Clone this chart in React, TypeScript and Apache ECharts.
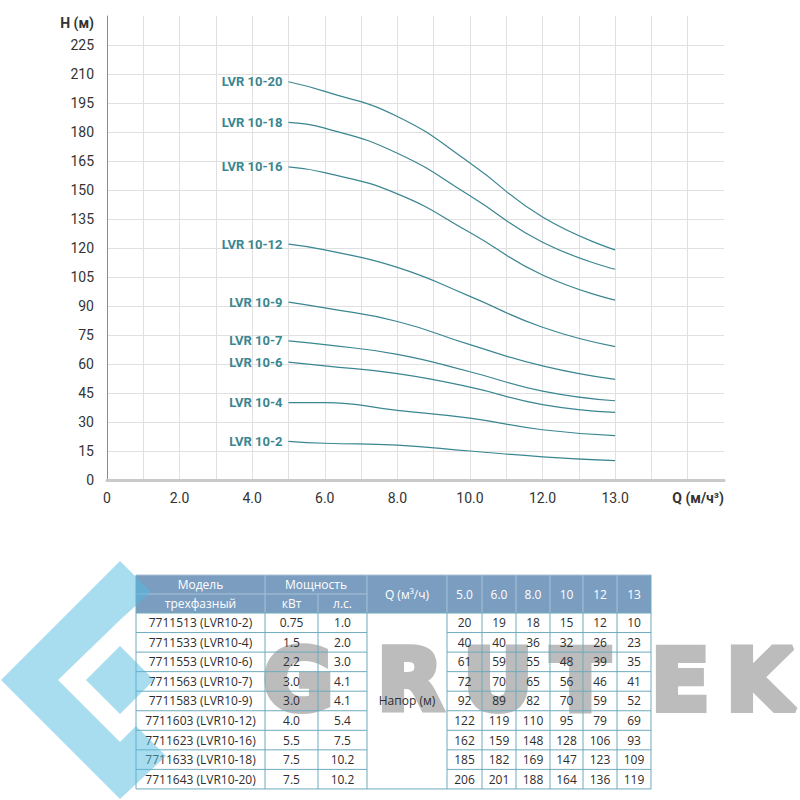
import React, { useEffect, useRef } from 'react';
import * as echarts from 'echarts';

// Flow points, m³/h
const flows = [5, 6, 8, 10, 12, 13];

const pumpNames = ['LVR 10-2', 'LVR 10-4', 'LVR 10-6', 'LVR 10-7', 'LVR 10-9', 'LVR 10-12', 'LVR 10-16', 'LVR 10-18', 'LVR 10-20'];
const articleCodes = ['7711513', '7711533', '7711553', '7711563', '7711583', '7711603', '7711623', '7711633', '7711643'];
const powerKw = ['0.75', '1.5', '2.2', '3.0', '3.0', '4.0', '5.5', '7.5', '7.5'];
const powerHp = ['1.0', '2.0', '3.0', '4.1', '4.1', '5.4', '7.5', '10.2', '10.2'];

// Head, m, at each flow point
const head10_2 = [20, 19, 18, 15, 12, 10];
const head10_4 = [40, 40, 36, 32, 26, 23];
const head10_6 = [61, 59, 55, 48, 39, 35];
const head10_7 = [72, 70, 65, 56, 46, 41];
const head10_9 = [92, 89, 82, 70, 59, 52];
const head10_12 = [122, 119, 110, 95, 79, 69];
const head10_16 = [162, 159, 148, 128, 106, 93];
const head10_18 = [185, 182, 169, 147, 123, 109];
const head10_20 = [206, 201, 188, 164, 136, 119];
const heads = [head10_2, head10_4, head10_6, head10_7, head10_9, head10_12, head10_16, head10_18, head10_20];

// Tick labels of the flow axis, one per grid step
const xTickLabels = ['0', '', '2.0', '', '4.0', '', '6.0', '', '8.0', '', '10.0', '', '12.0', '', '13.0', '', '', ''];

const watermarkLetters = ['G', 'R', 'U', 'T', 'E', 'K'];

const LINE_COLOR = '#3a8691';
const FONT = 'Roboto, "Noto Sans", sans-serif';
const TABLE_FONT = '"Open Sans", "Noto Sans", sans-serif';

// The flow axis is stretched past 12 m³/h: the step 12 → 13 takes two grid cells
const flowToAxis = (q: number) => (q <= 12 ? q : 12 + (q - 12) * 2);

const flowHeader = (q: number) => (q < 10 ? q.toFixed(1) : String(q));

function buildTable(): any[] {
  const els: any[] = [];
  const colX = [136, 265, 318, 367, 447, 482, 516, 550, 583, 617, 651];
  const top = 575;
  const headH = 19;
  const bodyTop = 613;
  const rowH = 19.55;
  const bodyBottom = bodyTop + rowH * pumpNames.length;
  const left = colX[0];
  const right = colX[colX.length - 1];
  const headFill = '#7b9dc0';
  const headLine = '#a9c2d8';
  const bodyLine = '#6eaabd';
  const textColor = '#2e2e2e';

  const line = (x1: number, y1: number, x2: number, y2: number, color: string) =>
    els.push({ type: 'line', silent: true, z: 10, shape: { x1, y1, x2, y2 }, style: { stroke: color, lineWidth: 1 } });
  const text = (t: string, x: number, y: number, color: string) =>
    els.push({
      type: 'text', silent: true, z: 12, x, y,
      style: { text: t, fill: color, font: `12px ${TABLE_FONT}`, align: 'center', verticalAlign: 'middle' },
    });

  // header background
  els.push({ type: 'rect', silent: true, z: 8, shape: { x: left, y: top, width: right - left, height: bodyTop - top }, style: { fill: headFill } });
  // body background
  els.push({ type: 'rect', silent: true, z: 8, shape: { x: left, y: bodyTop, width: right - left, height: bodyBottom - bodyTop }, style: { fill: '#ffffff' } });

  // header grid
  line(left, top, right, top, headLine);
  line(left, top + headH, colX[3], top + headH, headLine);
  for (let c = 1; c < colX.length - 1; c++) {
    if (c === 2) line(colX[c], top + headH, colX[c], bodyTop, headLine);
    else line(colX[c], top, colX[c], bodyTop, headLine);
  }

  // header texts
  const r1 = top + headH / 2;
  const r2 = top + headH + headH / 2;
  const mid = (a: number, b: number) => (a + b) / 2;
  text('Модель', mid(colX[0], colX[1]), r1, '#ffffff');
  text('трехфазный', mid(colX[0], colX[1]), r2, '#ffffff');
  text('Мощность', mid(colX[1], colX[3]), r1, '#ffffff');
  text('кВт', mid(colX[1], colX[2]), r2, '#ffffff');
  text('л.с.', mid(colX[2], colX[3]), r2, '#ffffff');
  text('Q (м³/ч)', mid(colX[3], colX[4]), mid(top, bodyTop), '#ffffff');
  flows.forEach((q, j) => text(flowHeader(q), mid(colX[4 + j], colX[5 + j]), mid(top, bodyTop), '#ffffff'));

  // body grid
  for (let r = 0; r <= pumpNames.length; r++) {
    const y = bodyTop + r * rowH;
    if (r === 0 || r === pumpNames.length) {
      line(left, y, right, y, bodyLine);
    } else {
      line(left, y, colX[3], y, bodyLine);
      line(colX[4], y, right, y, bodyLine);
    }
  }
  colX.forEach((x) => line(x, bodyTop, x, bodyBottom, bodyLine));
  line(left, top, left, bodyTop, bodyLine);
  line(right, top, right, bodyTop, bodyLine);

  // body texts
  pumpNames.forEach((name, i) => {
    const y = bodyTop + i * rowH + rowH / 2;
    text(`${articleCodes[i]} (${name.replace(' ', '')})`, mid(colX[0], colX[1]), y, textColor);
    text(powerKw[i], mid(colX[1], colX[2]), y, textColor);
    text(powerHp[i], mid(colX[2], colX[3]), y, textColor);
    heads[i].forEach((h, j) => text(String(h), mid(colX[4 + j], colX[5 + j]), y, textColor));
  });
  text('Напор (м)', mid(colX[3], colX[4]), mid(bodyTop, bodyBottom), textColor);
  return els;
}

function buildWatermark(): any[] {
  const els: any[] = [];
  const blue = 'rgba(82, 185, 224, 0.5)';
  // brand mark: a diamond-shaped "G"
  els.push({
    type: 'polygon', silent: true, z: 20,
    shape: { points: [[1, 680], [120, 561], [151, 592], [121, 619], [58, 680], [120, 742], [136, 726], [166, 756], [120, 799]] },
    style: { fill: blue },
  });
  els.push({
    type: 'polygon', silent: true, z: 20,
    shape: { points: [[86, 680], [120, 646], [154, 680], [120, 714]] },
    style: { fill: blue },
  });
  // lettering sits under the table's lines and figures
  const letterX = [263, 377, 463, 551, 651, 726];
  watermarkLetters.forEach((ch, i) =>
    els.push({
      type: 'text', silent: true, z: 9, x: letterX[i], y: 680,
      style: {
        text: ch, fill: '#bcbcbc', stroke: '#bcbcbc', lineWidth: 6, lineJoin: 'miter',
        font: `bold 86px "DejaVu Sans", sans-serif`, align: 'left', verticalAlign: 'middle',
      },
    })
  );
  return els;
}

export default function App() {
  const ref = useRef<HTMLDivElement>(null);

  useEffect(() => {
    const chart = echarts.init(ref.current!, undefined, { renderer: 'svg' });
    const option: any = {
      animation: false,
      backgroundColor: '#ffffff',
      grid: { left: 107, right: 76, top: 16, bottom: 320 },
      xAxis: {
        type: 'value',
        min: 0,
        max: 17,
        interval: 1,
        axisLine: { show: true, lineStyle: { color: '#c9c9c9', width: 3 } },
        axisTick: { show: false },
        axisLabel: {
          formatter: (v: number) => xTickLabels[Math.round(v)] ?? '',
          color: '#333',
          fontSize: 14,
          fontFamily: FONT,
          margin: 11,
          showMaxLabel: false,
        },
        splitLine: { show: true, showMinLine: false, showMaxLine: false, lineStyle: { color: '#e0e0e0', width: 1 } },
      },
      yAxis: {
        type: 'value',
        min: 0,
        max: 240,
        interval: 15,
        axisLine: { show: true, lineStyle: { color: '#8c8c8c', width: 1 } },
        axisTick: { show: false },
        axisLabel: { showMaxLabel: false, color: '#333', fontSize: 14, fontFamily: FONT, margin: 13 },
        splitLine: { show: true, showMinLine: false, showMaxLine: false, lineStyle: { color: '#e0e0e0', width: 1 } },
      },
      series: pumpNames.map((name, i) => ({
        type: 'line',
        name,
        smooth: 0.5,
        showSymbol: true,
        symbol: 'circle',
        symbolSize: 0,
        lineStyle: { color: LINE_COLOR, width: 1.2 },
        itemStyle: { color: LINE_COLOR },
        z: 3,
        data: flows.map((q, j) =>
          j === 0
            ? {
                value: [flowToAxis(q), heads[i][j]],
                label: {
                  show: true,
                  position: 'left',
                  distance: 6,
                  formatter: name,
                  color: LINE_COLOR,
                  fontSize: 13,
                  fontWeight: 'bold',
                  fontFamily: FONT,
                },
              }
            : [flowToAxis(q), heads[i][j]]
        ),
      })),
      graphic: [
        {
          type: 'text', silent: true, x: 94, y: 23,
          style: { text: 'H (м)', fill: '#333', font: `bold 14px ${FONT}`, align: 'right', verticalAlign: 'middle' },
        },
        {
          type: 'text', silent: true, x: 724, y: 498,
          style: { text: 'Q (м/ч³)', fill: '#333', font: `bold 14px ${FONT}`, align: 'right', verticalAlign: 'middle' },
        },
        ...buildTable(),
        ...buildWatermark(),
      ],
    };
    chart.setOption(option);
    return () => chart.dispose();
  }, []);

  return <div ref={ref} style={{ position: 'absolute', left: 0, top: 0, width: 800, height: 800 }} />;
}
